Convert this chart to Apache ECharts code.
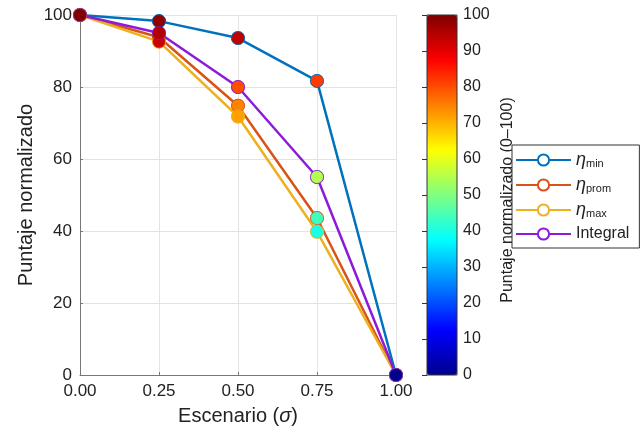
<!DOCTYPE html>
<html>
<head>
<meta charset="utf-8">
<script src="https://cdn.jsdelivr.net/npm/echarts@6/dist/echarts.min.js"></script>
<style>html,body{margin:0;padding:0;background:#fff}#c{width:640px;height:433px}</style>
</head>
<body>
<div id="c"></div>
<script>
const scenarios = [0, 0.25, 0.5, 0.75, 1.0];
const etaMin = [100, 98.3, 93.6, 81.7, 0];
const etaProm = [100, 93.8, 74.8, 43.6, 0];
const etaMax = [100, 92.6, 71.8, 39.8, 0];
const integral = [100, 95.0, 80.0, 55.0, 0];
const xTicks = [0, 0.25, 0.5, 0.75, 1.0];
const yTicks = [0, 20, 40, 60, 80, 100];
const cbTicks = [0, 10, 20, 30, 40, 50, 60, 70, 80, 90, 100];

const names = ['eta_min', 'eta_prom', 'eta_max', 'Integral'];
const colors = ['#0072BD', '#D95319', '#EDB120', '#8C1BD9'];
const values = [etaMin, etaProm, etaMax, integral];
const jet = ['#00008F', '#0000FF', '#0080FF', '#00FFFF', '#80FF80', '#FFFF00', '#FF8000', '#FF0000', '#800000'];
const FONT = '"Liberation Sans", Arial, sans-serif';

const pairs = v => scenarios.map((x, i) => [x, v[i]]);
const lineSeries = values.map((v, k) => ({
  type: 'line', name: names[k], xAxisIndex: 0, yAxisIndex: 0,
  data: pairs(v), symbol: 'emptyCircle', symbolSize: 12, showSymbol: true,
  lineStyle: { color: colors[k], width: 2.5 },
  itemStyle: { color: colors[k], borderWidth: 2.5 },
  z: 2 + k, emphasis: { disabled: true }
}));
const dotSeries = values.map((v, k) => ({
  type: 'scatter', name: names[k] + '_pts', xAxisIndex: 0, yAxisIndex: 0,
  data: pairs(v), symbol: 'circle', symbolSize: 13,
  itemStyle: { borderColor: colors[k], borderWidth: 0.6, opacity: 1 },
  z: 10, emphasis: { disabled: true }
}));

const chart = echarts.init(document.getElementById('c'));
chart.setOption({
  animation: false,
  textStyle: { fontFamily: FONT },
  grid: [
    { left: 80, top: 15, width: 316, height: 360, containLabel: false },
    { left: 427, top: 15, width: 30, height: 360, show: true, borderColor: '#333', borderWidth: 1, backgroundColor: 'transparent', z: 20 }
  ],
  xAxis: [
    { gridIndex: 0, type: 'value', min: 0, max: 1, interval: 0.25,
      name: 'Escenario ({i|σ})', nameLocation: 'middle', nameGap: 31,
      nameTextStyle: { fontSize: 20, color: '#222', fontFamily: FONT,
        rich: { i: { fontSize: 20, fontStyle: 'italic', color: '#222', fontFamily: FONT } } },
      axisLine: { show: true, lineStyle: { color: '#777', width: 1 } },
      axisTick: { show: true, inside: true, length: 3, lineStyle: { color: '#777' } },
      axisLabel: { fontSize: 17, color: '#222', margin: 8, formatter: v => v.toFixed(2) },
      splitLine: { show: true, lineStyle: { color: '#e3e3e3', width: 1 } } },
    { gridIndex: 1, type: 'value', min: 0, max: 1, show: false }
  ],
  yAxis: [
    { gridIndex: 0, type: 'value', min: 0, max: 100, interval: 20,
      name: 'Puntaje normalizado', nameLocation: 'middle', nameGap: 44,
      nameTextStyle: { fontSize: 20, color: '#222', fontFamily: FONT },
      axisLine: { show: true, lineStyle: { color: '#777', width: 1 } },
      axisTick: { show: true, inside: true, length: 3, lineStyle: { color: '#777' } },
      axisLabel: { fontSize: 17, color: '#222', margin: 8 },
      splitLine: { show: true, lineStyle: { color: '#e3e3e3', width: 1 } } },
    { gridIndex: 1, type: 'value', min: 0, max: 100, interval: 10, position: 'right',
      axisLine: { show: false },
      axisTick: { show: true, inside: true, length: 5, lineStyle: { color: '#333' } },
      axisLabel: { fontSize: 16, color: '#222', margin: 6 },
      splitLine: { show: false } }
  ],
  visualMap: {
    type: 'continuous', min: 0, max: 100, dimension: 1,
    seriesIndex: [4, 5, 6, 7],
    left: 427, top: 15, itemWidth: 30, itemHeight: 360, padding: 0,
    text: null, showLabel: false, calculable: false, hoverLink: false,
    inRange: { color: jet }
  },
  legend: {
    data: names, orient: 'vertical', left: 512, top: 145,
    backgroundColor: '#fff', borderColor: '#333', borderWidth: 1,
    padding: [6, 10, 6, 3], itemGap: 7, itemWidth: 55, itemHeight: 14, z: 30,
    selectedMode: false,
    textStyle: { fontSize: 16, color: '#222', fontFamily: FONT,
      rich: {
        e: { fontSize: 18, fontStyle: 'italic', color: '#222', fontFamily: FONT },
        s: { fontSize: 11, color: '#222', fontFamily: FONT, padding: [7, 0, 0, 0] },
        t: { fontSize: 16, color: '#222', fontFamily: FONT }
      } },
    formatter: n => n.startsWith('eta_') ? '{e|η}{s|' + n.slice(4) + '}' : '{t|' + n + '}'
  },
  graphic: [
    { type: 'text', x: 508, y: 200, rotation: Math.PI / 2, z: 5,
      style: { text: 'Puntaje normalizado (0–100)', fontSize: 16, fill: '#222',
        fontFamily: FONT, align: 'center', verticalAlign: 'middle' } }
  ],
  series: lineSeries.concat(dotSeries)
});
</script>
</body>
</html>
